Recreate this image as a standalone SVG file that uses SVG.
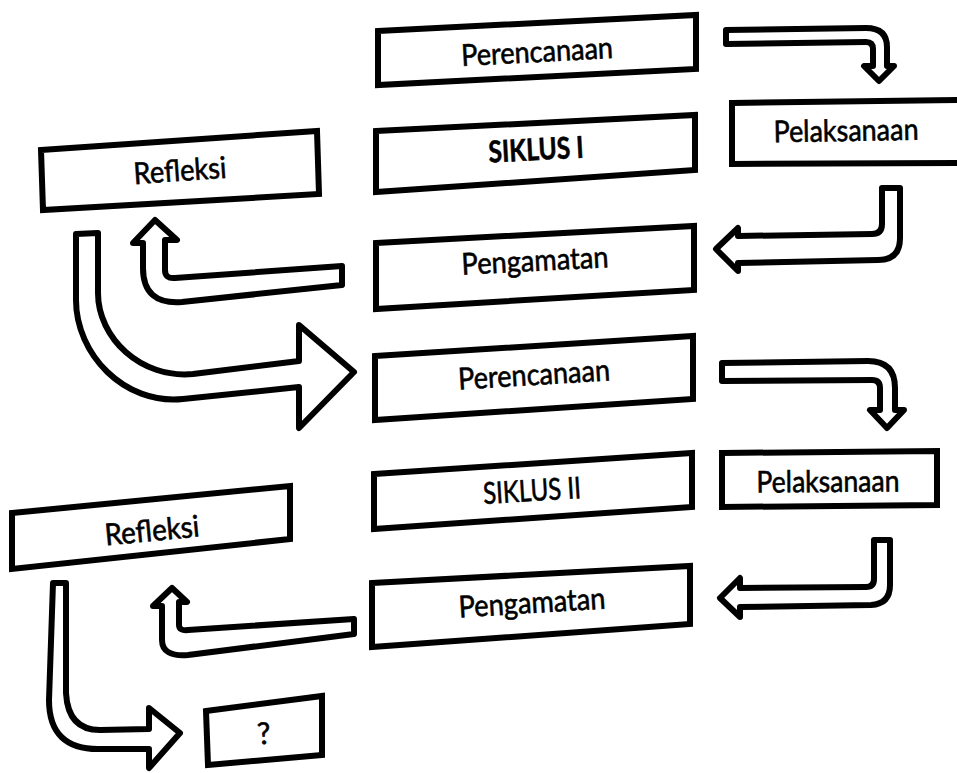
<svg xmlns="http://www.w3.org/2000/svg" width="957" height="773" viewBox="0 0 957 773">
<style>
.box{fill:#fff;stroke:#000;stroke-width:6;stroke-linejoin:miter}
.arw{fill:#fff;stroke:#000;stroke-width:6;stroke-linejoin:round}
.lbl{font-family:Lato,"Liberation Sans",sans-serif;font-size:30px;fill:#000;stroke:#000;stroke-width:0.6;text-anchor:middle}
.b{font-weight:bold}
</style>
<rect width="957" height="773" fill="#fff"/>
<g id="connectors">
<path class="arw" d="M726,30 L866,28 Q887,28 887,47 L887,66 L894,66 L879,81 L864,66 L873,66 L873,49 Q873,42 866,42 L726,44 Z"/>
<path class="arw" d="M882,188 L900,188 L900,238 Q900,260 878,260 L738,263 L738,271 L716,249 L738,228 L738,236 L872,234 Q882,234 882,224 Z"/>
<path class="arw" d="M143,268 L143,243 L133,243 L155,220 L177,240 L165,240 L165,270 Q165,279 175,278 L342,266 L342,285 L182,302 Q143,305 143,268 Z"/>
<path class="arw" d="M76,234 L98,233 L98,293 C98,338 141,379 193,374 L299,361 L299,325 L354,372 L299,428 L299,387 L183,399 C124,405 76,354 76,300 Z"/>
<path class="arw" d="M722,363 L868,361 Q895,361 895,388 L895,410 L904,410 L887,428 L870,410 L880,410 L880,388 Q880,380 872,380 L722,381 Z"/>
<path class="arw" d="M874,540 L890,540 L890,585 Q890,604 871,605 L740,607 L740,617 L720,598 L740,578 L740,588 L866,587 Q874,587 874,579 Z"/>
<path class="arw" d="M162,640 L162,606 L153,606 L172,588 L187,602 L179,602 L179,625 Q179,631 188,630 L354,619 L354,634 L188,655 Q162,657 162,640 Z"/>
<path class="arw" d="M53,583 L66,583 L66,693 Q68,730 100,730 L149,729 L149,708 L180,733 L149,768 L149,749 L100,749 Q49,750 49,700 Z"/>
</g>
<g id="perencanaan1">
<polygon class="box" points="378,31 696,15 696,69 378,85"/>
<text class="lbl" transform="translate(537,52) rotate(-3)" y="10" textLength="152" lengthAdjust="spacingAndGlyphs">Perencanaan</text>
</g>
<g id="siklus1">
<polygon class="box" points="376,131 695,115 695,170 376,192"/>
<text class="lbl b" transform="translate(536,150) rotate(-3)" y="10" textLength="95" lengthAdjust="spacingAndGlyphs">SIKLUS I</text>
</g>
<g id="pengamatan1">
<polygon class="box" points="376,243 694,226 694,290 376,309"/>
<text class="lbl" transform="translate(535,261) rotate(-3)" y="10" textLength="147" lengthAdjust="spacingAndGlyphs">Pengamatan</text>
</g>
<g id="pelaksanaan1">
<polygon class="box" points="732,103 965,100 965,163 732,164"/>
<text class="lbl" transform="translate(846,131) rotate(-1)" y="10" textLength="145" lengthAdjust="spacingAndGlyphs">Pelaksanaan</text>
</g>
<g id="refleksi1">
<polygon class="box" points="41,150 317,131 319,194 43,210"/>
<text class="lbl" transform="translate(180,171) rotate(-4)" y="10" textLength="93" lengthAdjust="spacingAndGlyphs">Refleksi</text>
</g>
<g id="perencanaan2">
<polygon class="box" points="375,356 693,336 693,399 375,420"/>
<text class="lbl" transform="translate(534,375) rotate(-3.5)" y="10" textLength="152" lengthAdjust="spacingAndGlyphs">Perencanaan</text>
</g>
<g id="siklus2">
<polygon class="box" points="374,474 692,453 692,507 374,529"/>
<text class="lbl" transform="translate(532,491) rotate(-3.5)" y="10" textLength="98" lengthAdjust="spacingAndGlyphs">SIKLUS II</text>
</g>
<g id="pengamatan2">
<polygon class="box" points="372,583 690,566 690,624 372,647"/>
<text class="lbl" transform="translate(532,603) rotate(-3.5)" y="10" textLength="147" lengthAdjust="spacingAndGlyphs">Pengamatan</text>
</g>
<g id="pelaksanaan2">
<polygon class="box" points="722,453 937,451 937,505 722,507"/>
<text class="lbl" transform="translate(828,482) rotate(-0.5)" y="10" textLength="143" lengthAdjust="spacingAndGlyphs">Pelaksanaan</text>
</g>
<g id="refleksi2">
<polygon class="box" points="12,513 290,486 290,539 12,569"/>
<text class="lbl" transform="translate(152,531) rotate(-5.5)" y="10" textLength="95" lengthAdjust="spacingAndGlyphs">Refleksi</text>
</g>
<g id="unknown">
<polygon class="box" points="206,711 322,696 322,755 208,765"/>
<text class="lbl" transform="translate(264,733) rotate(-5)" y="11" font-size="32">?</text>
</g>
</svg>
